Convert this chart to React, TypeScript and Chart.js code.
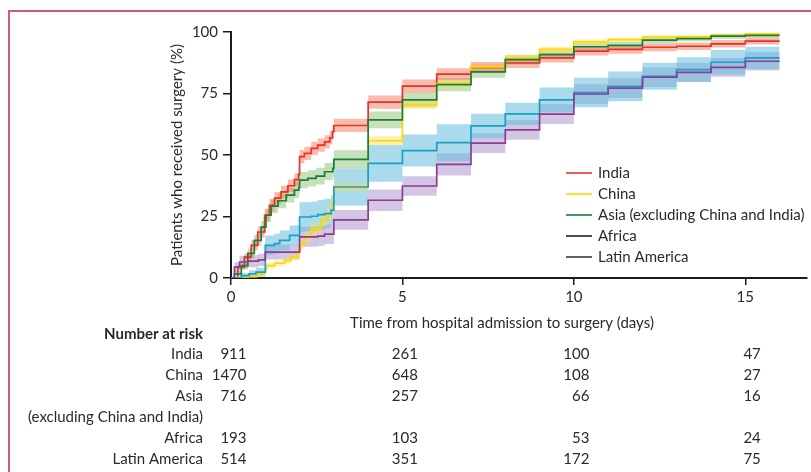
import React, { useEffect, useRef } from 'react';
import { Chart, registerables } from 'chart.js';

Chart.register(...registerables);

// ---------- data ----------
const seriesNames = ['India', 'China', 'Asia (excluding China and India)', 'Africa', 'Latin America'];

const indiaT = [0, 0.2, 0.39, 0.59, 0.78, 0.98, 1.12, 1.27, 1.46, 1.66, 1.85, 1.97, 2.0, 2.14, 2.34, 2.53, 2.73, 2.88, 2.96, 3, 4, 5, 6, 7, 8, 9, 10, 11, 12, 13, 14, 15, 16];
const indiaV = [0, 4.4, 8.5, 13.3, 18.7, 25.5, 29.5, 32.5, 35, 37.5, 40, 42, 49.3, 50.7, 52.7, 54, 55.3, 57, 59.5, 62, 71.5, 78, 82.9, 85.6, 87.4, 89.5, 92.2, 92.9, 93.8, 94.2, 95.2, 96.3, 96.3];
const indiaCI = [0, 1, 1.5, 2, 2.2, 2.5, 2.5, 2.5, 2.5, 2.5, 2.6, 2.6, 2.7, 2.7, 2.7, 2.7, 2.7, 2.7, 2.7, 2.7, 2.7, 2.7, 2.4, 2.2, 2, 1.9, 1.8, 1.7, 1.6, 1.5, 1.5, 1.4, 1.4];

const chinaT = [0, 0.5, 0.78, 0.9, 1.0, 1.02, 1.27, 1.56, 1.75, 1.97, 2.03, 2.14, 2.34, 2.63, 2.82, 2.94, 3, 4, 5, 6, 7, 8, 9, 10, 11, 12, 13, 14, 15, 16];
const chinaV = [0, 0.6, 1.4, 2, 3, 5, 6, 7.1, 8.5, 11.2, 13.9, 16.7, 20, 23.5, 26.2, 31, 37, 55.8, 70.4, 79, 85.8, 89.5, 92.9, 96, 96.9, 97.9, 98, 98.6, 99.1, 99.1];
const chinaCI = [0, 0.5, 0.7, 0.8, 1, 1.2, 1.2, 1.3, 1.4, 1.6, 2, 2.3, 2.5, 2.5, 2.5, 2.5, 1.6, 1.8, 1.7, 1.5, 1.3, 1.2, 1.1, 1, 0.9, 0.8, 0.8, 0.7, 0.7, 0.7];

const asiaT = [0, 0.1, 0.3, 0.49, 0.68, 0.88, 1.02, 1.17, 1.37, 1.61, 1.85, 1.98, 2.0, 2.24, 2.48, 2.73, 2.97, 3, 4, 5, 6, 7, 8, 9, 10, 11, 12, 13, 14, 15, 16];
const asiaV = [0, 1.7, 5, 10, 15.3, 20.7, 25.5, 29.2, 31.4, 33.7, 35.7, 36.8, 39.8, 40.5, 41.4, 43.2, 44.6, 48.2, 64.3, 72.4, 78.6, 83.8, 88.8, 90.8, 94, 94.6, 96.7, 97.3, 98.3, 98.6, 98.6];
const asiaCI = [0, 1, 1.5, 2, 2.3, 2.5, 2.7, 2.8, 3, 3, 3.2, 3.2, 3.3, 3.3, 3.4, 3.5, 3.6, 3.7, 3.4, 3, 2.7, 2.4, 2, 1.7, 1.5, 1.4, 1.2, 1.1, 1, 0.9, 0.9];

const africaT = [0, 0.3, 0.53, 0.73, 1, 1.27, 1.42, 1.71, 2, 2.34, 2.53, 2.73, 2.92, 3, 4, 5, 6, 7, 8, 9, 10, 11, 12, 13, 14, 15, 16];
const africaV = [0, 1, 1.7, 2.4, 13.3, 14, 15.3, 17.3, 24.8, 25.1, 25.8, 26.2, 27.6, 37, 46.6, 51.8, 55, 61.8, 66.7, 72.4, 75.4, 77.9, 82, 84.7, 87.7, 89.5, 89.5];
const africaCI = [0, 1, 1.5, 1.8, 4, 4, 4, 4, 6, 6, 6, 6, 6, 7.5, 7.5, 6.5, 7.5, 5, 4.5, 5, 6, 6, 5.5, 5, 5, 4.5, 4.5];

const latamT = [0, 0.1, 0.25, 0.5, 0.8, 1, 2, 2.53, 2.73, 3, 4, 5, 6, 7, 8, 9, 10, 11, 12, 13, 14, 15, 16];
const latamV = [0, 4.4, 6.5, 6.9, 7.4, 10.5, 16.7, 17, 17.8, 23.6, 31.6, 37.4, 46.2, 54.8, 60.2, 66.6, 74.8, 77.2, 81.6, 83.6, 85.6, 88.1, 88.1];
const latamCI = [0, 2, 2.5, 2.5, 2.5, 3, 4, 4, 4, 4, 4.4, 4, 4.5, 4, 4, 4, 4, 4, 4, 3.8, 3.8, 3.7, 3.7];

const xTickValues = [0, 5, 10, 15];
const yTickValues = [0, 25, 50, 75, 100];

const riskTimes = [0, 5, 10, 15];
const riskIndia = [911, 261, 100, 47];
const riskChina = [1470, 648, 108, 27];
const riskAsia = [716, 257, 66, 16];
const riskAfrica = [193, 103, 53, 24];
const riskLatAm = [514, 351, 172, 75];

const riskRowLabels = ['India', 'China', 'Asia', '(excluding China and India)', 'Africa', 'Latin America'];
const riskRows: (number[] | null)[] = [riskIndia, riskChina, riskAsia, null, riskAfrica, riskLatAm];

const xTitle = 'Time from hospital admission to surgery (days)';
const yTitle = 'Patients who received surgery (%)';

// ---------- styles ----------
const FONT = 'Lato, "Liberation Sans", Arial, sans-serif';
const TEXT = '#2a2a2a';
const AXIS = '#1c1c1c';
const lineColors = ['#e8312a', '#ffd800', '#1b7d3a', '#1aa0c8', '#8e3c8e'];
const bandColors = [
  'rgba(243,120,90,0.5)',
  'rgba(250,222,80,0.45)',
  'rgba(120,180,90,0.42)',
  'rgba(100,190,220,0.55)',
  'rgba(150,120,190,0.42)',
];
const legendLineColors = ['#e8312a', '#ffd800', '#1b7d3a', '#222222', '#3a3a3a'];

const allSeries = [
  { t: indiaT, v: indiaV, ci: indiaCI },
  { t: chinaT, v: chinaV, ci: chinaCI },
  { t: asiaT, v: asiaV, ci: asiaCI },
  { t: africaT, v: africaV, ci: africaCI },
  { t: latamT, v: latamV, ci: latamCI },
];

function buildDatasets() {
  const bands: any[] = [];
  const lines: any[] = [];
  allSeries.forEach((s, i) => {
    const upper = s.t.map((t, k) => ({ x: t, y: Math.min(100, s.v[k] + s.ci[k]) }));
    const lower = s.t.map((t, k) => ({ x: t, y: Math.max(0, s.v[k] - s.ci[k]) }));
    bands.push({
      label: seriesNames[i] + ' upper',
      data: upper,
      stepped: 'before',
      borderColor: 'rgba(0,0,0,0)',
      borderWidth: 0,
      pointRadius: 0,
      fill: false,
      order: 10,
    });
    bands.push({
      label: seriesNames[i] + ' lower',
      data: lower,
      stepped: 'before',
      borderColor: 'rgba(0,0,0,0)',
      borderWidth: 0,
      pointRadius: 0,
      backgroundColor: bandColors[i],
      fill: '-1',
      order: 10,
    });
    lines.push({
      label: seriesNames[i],
      data: s.t.map((t, k) => ({ x: t, y: s.v[k] })),
      stepped: 'before',
      borderColor: lineColors[i],
      borderWidth: 1.7,
      pointRadius: 0,
      fill: false,
      order: 5 - i,
    });
  });
  return [...bands, ...lines];
}

const overlayPlugin = {
  id: 'overlayText',
  afterDraw(chart: any) {
    const { ctx } = chart;
    const xs = chart.scales.x;
    ctx.save();
    ctx.textBaseline = 'middle';
    ctx.fillStyle = TEXT;
    ctx.font = `15px ${FONT}`;

    // x axis title
    ctx.textAlign = 'center';
    ctx.fillText(xTitle, 502, 323);

    // legend
    seriesNames.forEach((name, i) => {
      const y = 173 + 21 * i;
      ctx.strokeStyle = legendLineColors[i];
      ctx.lineWidth = 1.6;
      ctx.beginPath();
      ctx.moveTo(566, y);
      ctx.lineTo(592, y);
      ctx.stroke();
      ctx.textAlign = 'left';
      ctx.fillStyle = TEXT;
      ctx.fillText(name, 598, y);
    });

    // number at risk table
    ctx.textAlign = 'right';
    ctx.font = `bold 15px ${FONT}`;
    ctx.fillText('Number at risk', 203, 334);
    ctx.font = `15px ${FONT}`;
    riskRowLabels.forEach((lab, r) => {
      const y = 354 + 21 * r;
      ctx.fillText(lab, 203, y);
      const row = riskRows[r];
      if (row) {
        row.forEach((n, j) => {
          const px = xs.getPixelForValue(riskTimes[j]) + 15.5;
          ctx.fillText(String(n), px, y);
        });
      }
    });
    ctx.restore();
  },
};

export default function App() {
  const ref = useRef<HTMLCanvasElement>(null);
  useEffect(() => {
    const canvas = ref.current;
    if (!canvas) return;
    const chart = new Chart(canvas, {
      type: 'line',
      data: { datasets: buildDatasets() },
      options: {
        responsive: false,
        devicePixelRatio: 1,
        animation: false,
        events: [],
        layout: { padding: { left: 0, top: 32, right: 4, bottom: 0 } },
        plugins: {
          legend: { display: false },
          tooltip: { enabled: false },
        },
        scales: {
          x: {
            type: 'linear',
            min: 0,
            max: 16.8,
            afterBuildTicks: (s: any) => {
              s.ticks = xTickValues.map((v) => ({ value: v }));
            },
            afterFit: (s: any) => {
              s.height = 194;
            },
            ticks: {
              autoSkip: false,
              maxRotation: 0,
              padding: 3,
              color: TEXT,
              font: { family: FONT, size: 15 },
            },
            grid: {
              display: true,
              drawOnChartArea: false,
              drawTicks: true,
              tickLength: 7,
              color: AXIS,
              lineWidth: 1.5,
            },
            border: { display: true, color: AXIS, width: 2 },
          },
          y: {
            type: 'linear',
            min: 0,
            max: 100,
            afterBuildTicks: (s: any) => {
              s.ticks = yTickValues.map((v) => ({ value: v }));
            },
            afterFit: (s: any) => {
              s.width = 231;
            },
            ticks: {
              padding: 5,
              color: TEXT,
              font: { family: FONT, size: 15 },
            },
            grid: {
              display: true,
              drawOnChartArea: false,
              drawTicks: true,
              tickLength: 8,
              color: AXIS,
              lineWidth: 1.5,
            },
            border: { display: true, color: AXIS, width: 2 },
            title: {
              display: true,
              text: yTitle,
              color: TEXT,
              font: { family: FONT, size: 15 },
              padding: { top: 168, bottom: 0 },
            },
          },
        },
      },
      plugins: [overlayPlugin],
    } as any);
    return () => chart.destroy();
  }, []);

  return (
    <div style={{ position: 'absolute', left: 0, top: 0, width: 811, height: 472, background: '#ffffff', overflow: 'hidden' }}>
      <div
        style={{
          position: 'absolute',
          left: 8,
          top: 10,
          right: 0,
          bottom: 0,
          borderTop: '2px solid #d4577f',
          borderLeft: '2px solid #d4577f',
        }}
      />
      <canvas ref={ref} width={811} height={472} style={{ position: 'absolute', left: 0, top: 0, width: 811, height: 472 }} />
    </div>
  );
}
